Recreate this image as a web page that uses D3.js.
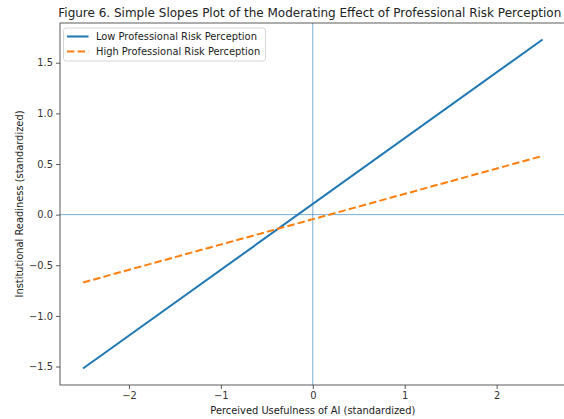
<!DOCTYPE html>
<html>
<head>
<meta charset="utf-8">
<script src="https://cdn.jsdelivr.net/npm/d3@7"></script>
<style>
  html, body { margin: 0; padding: 0; background: #fff; }
  svg { display: block; font-family: "DejaVu Sans", sans-serif; }
</style>
</head>
<body>
<svg id="chart" width="564" height="419"></svg>
<script>
// Simple slopes: predicted readiness at low / high risk perception
const xValues = [-2.5, 2.5];
const lowRisk = [-1.52, 1.73];
const highRisk = [-0.67, 0.58];
const seriesNames = ["Low Professional Risk Perception", "High Professional Risk Perception"];
const xTicks = [-2, -1, 0, 1, 2];
const yTicks = [-1.5, -1.0, -0.5, 0.0, 0.5, 1.0, 1.5];

const W = 564, H = 419;
const plot = { left: 60, top: 23, width: 505.6, height: 362 };

const svg = d3.select("#chart");

// 5% padding around the data extent on each axis
function padded(ext) {
  const pad = (ext[1] - ext[0]) * 0.05;
  return [ext[0] - pad, ext[1] + pad];
}
const allY = lowRisk.concat(highRisk);
const x = d3.scaleLinear().domain(padded(d3.extent(xValues)))
  .range([plot.left, plot.left + plot.width]);
const y = d3.scaleLinear().domain(padded(d3.extent(allY)))
  .range([plot.top + plot.height, plot.top]);

const minus = s => s.replace("-", "\u2212");
const tickColor = "#333";
const fontTick = 9.9;

// reference lines at zero
svg.append("line")
  .attr("x1", plot.left).attr("x2", plot.left + plot.width)
  .attr("y1", y(0)).attr("y2", y(0))
  .attr("stroke", "#1f77b4").attr("stroke-opacity", 0.6).attr("stroke-width", 1);
svg.append("line")
  .attr("x1", x(0)).attr("x2", x(0))
  .attr("y1", plot.top).attr("y2", plot.top + plot.height)
  .attr("stroke", "#1f77b4").attr("stroke-opacity", 0.6).attr("stroke-width", 1);

// slope lines
const line = d3.line().x((d, i) => x(xValues[i])).y(d => y(d));
svg.append("path").datum(lowRisk)
  .attr("d", line).attr("fill", "none")
  .attr("stroke", "#1f77b4").attr("stroke-width", 2);
svg.append("path").datum(highRisk)
  .attr("d", line).attr("fill", "none")
  .attr("stroke", "#ff7f0e").attr("stroke-width", 2)
  .attr("stroke-dasharray", "7.4,3.2");

// axes
const xAxis = d3.axisBottom(x).tickValues(xTicks)
  .tickFormat(d => minus(d3.format("d")(d))).tickSizeOuter(0).tickSize(4).tickPadding(3);
const yAxis = d3.axisLeft(y).tickValues(yTicks)
  .tickFormat(d => minus(d3.format(".1f")(d))).tickSizeOuter(0).tickSize(4).tickPadding(3);

const gx = svg.append("g")
  .attr("transform", `translate(0,${plot.top + plot.height})`).call(xAxis);
const gy = svg.append("g")
  .attr("transform", `translate(${plot.left},0)`).call(yAxis);
[gx, gy].forEach(g => {
  g.select(".domain").remove();
  g.selectAll(".tick line").attr("stroke", tickColor).attr("stroke-width", 0.8);
  g.selectAll(".tick text").attr("fill", tickColor)
    .style("font-size", fontTick + "px").style("font-family", "DejaVu Sans");
});

// frame
svg.append("rect")
  .attr("x", plot.left).attr("y", plot.top)
  .attr("width", plot.width).attr("height", plot.height)
  .attr("fill", "none").attr("stroke", tickColor).attr("stroke-width", 0.8);

// titles
svg.append("text")
  .attr("x", plot.left + plot.width / 2 - 3).attr("y", 17)
  .attr("text-anchor", "middle").attr("fill", "#222")
  .style("font-size", "12px")
  .text("Figure 6. Simple Slopes Plot of the Moderating Effect of Professional Risk Perception");
svg.append("text")
  .attr("x", plot.left + plot.width / 2).attr("y", 414)
  .attr("text-anchor", "middle").attr("fill", "#222")
  .style("font-size", fontTick + "px")
  .text("Perceived Usefulness of AI (standardized)");
svg.append("text")
  .attr("transform", `translate(23,${plot.top + plot.height / 2}) rotate(-90)`)
  .attr("text-anchor", "middle").attr("fill", "#222")
  .style("font-size", fontTick + "px")
  .text("Institutional Readiness (standardized)");

// legend
const legend = svg.append("g").attr("transform", "translate(63.5,28)");
legend.append("rect")
  .attr("width", 202).attr("height", 33).attr("rx", 2.5)
  .attr("fill", "#fff").attr("fill-opacity", 0.8)
  .attr("stroke", "#ccc").attr("stroke-width", 0.8);
const styles = [
  { color: "#1f77b4", dash: null },
  { color: "#ff7f0e", dash: "7.4,3.2" }
];
seriesNames.forEach((name, i) => {
  const yy = 8.5 + i * 15;
  legend.append("line")
    .attr("x1", 3.5).attr("x2", 25).attr("y1", yy).attr("y2", yy)
    .attr("stroke", styles[i].color).attr("stroke-width", 2)
    .attr("stroke-dasharray", styles[i].dash);
  legend.append("text")
    .attr("x", 32.5).attr("y", yy + 3.5).attr("fill", "#222")
    .style("font-size", fontTick + "px")
    .text(name);
});
</script>
</body>
</html>
